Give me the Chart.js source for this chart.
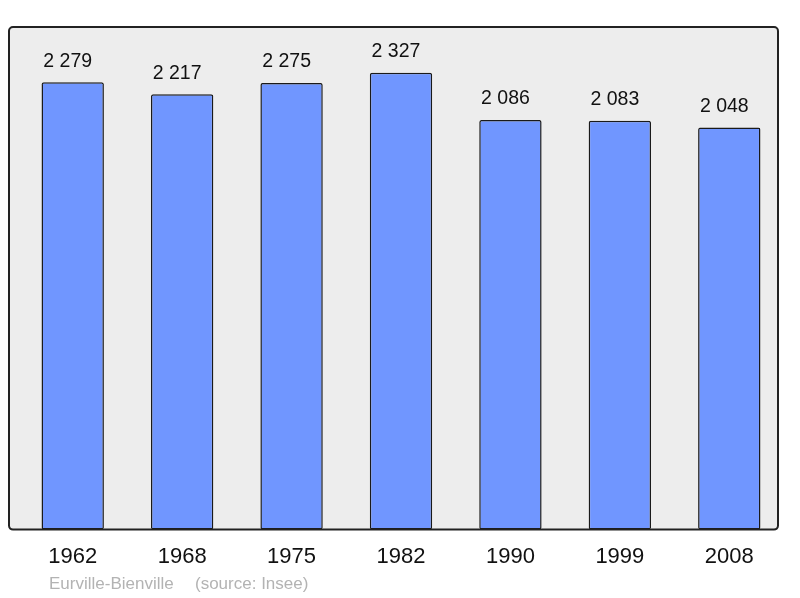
<!DOCTYPE html>
<html>
<head>
<meta charset="utf-8">
<script src="https://cdn.jsdelivr.net/npm/chart.js@4"></script>
<style>
  html, body { margin: 0; padding: 0; background: #ffffff; }
  #wrap { width: 800px; height: 598px; }
</style>
</head>
<body>
<div id="wrap"><canvas id="chart" width="800" height="598"></canvas></div>
<script>
// population by census year
const years = ['1962', '1968', '1975', '1982', '1990', '1999', '2008'];
const population = [2279, 2217, 2275, 2327, 2086, 2083, 2048];
const commune = 'Eurville-Bienville';
const source = '(source: Insee)';

function fmt(n) {
    // French style thousands separator
    return String(n).replace(/\B(?=(\d{3})+(?!\d))/g, ' ');
}

// grey box behind the bars, a bit narrower than the bar slots
function boxPath(chart) {
    const a = chart.chartArea;
    const ctx = chart.ctx;
    ctx.beginPath();
    ctx.roundRect(a.left - 9, a.top, (a.right - 6) - (a.left - 9), a.bottom - a.top, 4);
}

const frame = {
    id: 'frame',
    beforeDatasetsDraw(chart) {
        const ctx = chart.ctx;
        ctx.save();
        boxPath(chart);
        ctx.fillStyle = '#ededed';
        ctx.fill();
        ctx.restore();
    },
    afterDatasetsDraw(chart) {
        const ctx = chart.ctx;
        ctx.save();
        boxPath(chart);
        ctx.lineWidth = 2;
        ctx.strokeStyle = '#222222';
        ctx.stroke();

        // values above each bar (sit slightly left of the bar centre)
        const meta = chart.getDatasetMeta(0);
        ctx.fillStyle = '#111111';
        ctx.font = '19.5px "Liberation Sans", Arial, sans-serif';
        ctx.textAlign = 'center';
        ctx.textBaseline = 'middle';
        meta.data.forEach((bar, i) => {
            ctx.fillText(fmt(population[i]), bar.x - 5, bar.y - 21);
        });

        // footer
        ctx.fillStyle = '#b3b3b3';
        ctx.font = '17px "Liberation Sans", Arial, sans-serif';
        ctx.textAlign = 'left';
        ctx.fillText(commune, 49, 584);
        ctx.fillText(source, 195, 584);
        ctx.restore();
    }
};

new Chart(document.getElementById('chart'), {
    type: 'bar',
    data: {
        labels: years,
        datasets: [{
            data: population,
            backgroundColor: '#7096ff',
            borderColor: '#1a1a1a',
            borderWidth: 1.5,
            borderRadius: 2,
            borderSkipped: false,
            barPercentage: 0.57,
            categoryPercentage: 1.0
        }]
    },
    options: {
        responsive: false,
        animation: false,
        layout: { padding: { left: 18, right: 16, top: 27, bottom: 14 } },
        plugins: {
            legend: { display: false },
            tooltip: { enabled: false }
        },
        scales: {
            x: {
                grid: { display: false, drawTicks: false },
                border: { display: false },
                ticks: {
                    color: '#111111',
                    padding: 14,
                    font: { family: '"Liberation Sans", Arial, sans-serif', size: 22 }
                }
            },
            y: {
                display: false,
                min: 0,
                max: 2560
            }
        }
    },
    plugins: [frame]
});
</script>
</body>
</html>
